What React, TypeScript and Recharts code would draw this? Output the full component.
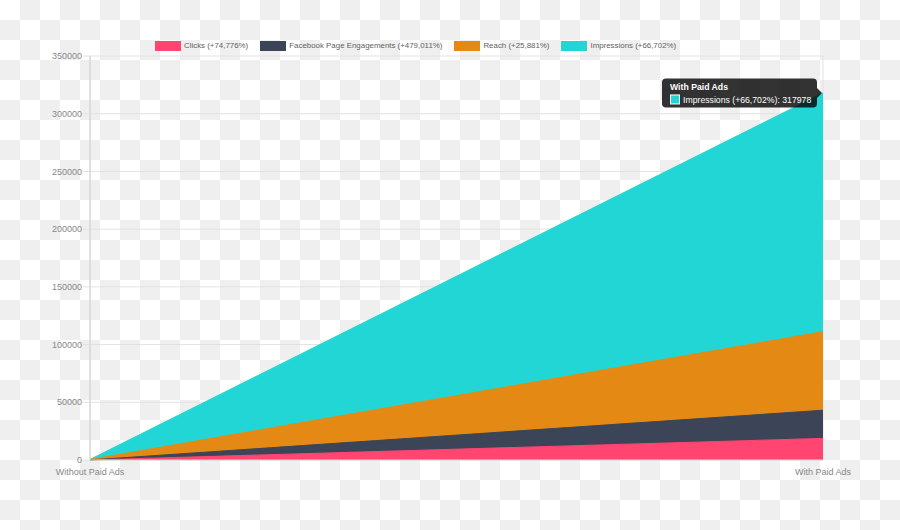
import { Area, AreaChart, CartesianGrid, Legend, XAxis, YAxis } from 'recharts';

const categories = ['Without Paid Ads', 'With Paid Ads'];

const clicks = [25, 18719];
const engagements = [9, 43120];
const reach = [428, 111199];
const impressions = [476, 317978];

const yTicks = [0, 50000, 100000, 150000, 200000, 250000, 300000, 350000];

const series = [
    { key: 'clicks', name: 'Clicks (+74,776%)', color: '#ff4570', values: clicks },
    { key: 'engagements', name: 'Facebook Page Engagements (+479,011%)', color: '#3b4557', values: engagements },
    { key: 'reach', name: 'Reach (+25,881%)', color: '#e48a14', values: reach },
    { key: 'impressions', name: 'Impressions (+66,702%)', color: '#22d6d6', values: impressions },
];

const tooltipTitle = categories[1];

const data = categories.map((name, i) => {
    const row: Record<string, string | number> = { name };
    series.forEach((s) => {
        row[s.key] = s.values[i];
    });
    return row;
});

const FONT = '"Liberation Sans", Arial, sans-serif';

const LegendContent = () => (
    <div style={{ display: 'flex', alignItems: 'center', fontFamily: FONT, fontSize: 7.9, color: '#5f5f5f' }}>
        {series.map((s) => (
            <div key={s.key} style={{ display: 'flex', alignItems: 'center', marginRight: 12 }}>
                <span style={{ width: 26, height: 9.5, background: s.color, marginRight: 3, display: 'inline-block' }} />
                <span style={{ whiteSpace: 'nowrap' }}>{s.name}</span>
            </div>
        ))}
    </div>
);

// static tooltip drawn next to the last impressions point
const renderTooltip = (props: any) => {
    const { x, y, value, index } = props;
    if (index !== 1) return null;
    const s = series[3];
    const w = 155;
    const h = 29;
    const right = x - 6;
    const left = right - w;
    const top = y - h / 2;
    return (
        <g>
            <rect x={left} y={top} width={w} height={h} rx={4} fill="rgba(0,0,0,0.8)" />
            <path d={`M${right},${y - 5} L${right + 5},${y} L${right},${y + 5} Z`} fill="rgba(0,0,0,0.8)" />
            <text x={left + 8} y={top + 11.5} fill="#fff" fontFamily={FONT} fontSize={8.7} fontWeight="bold">
                {tooltipTitle}
            </text>
            <rect x={left + 8.5} y={top + 16.5} width={9} height={9} fill={s.color} stroke="#fff" strokeWidth={1} />
            <text x={left + 21} y={top + 24.5} fill="#fff" fontFamily={FONT} fontSize={8.7}>
                {`${s.name}: ${value}`}
            </text>
        </g>
    );
};

const App = () => {
    const drawOrder = [...series].reverse();
    return (
        <div
            style={{
                position: 'absolute',
                top: 0,
                left: 0,
                width: 900,
                height: 530,
                background: 'repeating-conic-gradient(#efefef 0 25%, #ffffff 0 50%) 0 0 / 40px 40px',
            }}
        >
            <AreaChart width={900} height={530} data={data} margin={{ top: 56, right: 77, left: 0, bottom: 0 }}>
                <CartesianGrid stroke="#e2e2e2" />
                <XAxis
                    dataKey="name"
                    axisLine={{ stroke: '#d6d6d6' }}
                    tickLine={false}
                    tickSize={7}
                    tick={{ fill: '#888', fontSize: 9, fontFamily: FONT }}
                    height={70}
                />
                <YAxis
                    domain={[0, 350000]}
                    ticks={yTicks}
                    width={90}
                    axisLine={{ stroke: '#cfcfcf' }}
                    tickLine={{ stroke: '#e2e2e2' }}
                    tickSize={7}
                    tickMargin={1}
                    tick={{ fill: '#888', fontSize: 9, fontFamily: FONT }}
                    interval={0}
                />
                <Legend
                    verticalAlign="middle"
                    align="center"
                    layout="horizontal"
                    wrapperStyle={{ top: 41, left: 155, width: 600 }}
                    content={() => <LegendContent />}
                />
                {drawOrder.map((s) => (
                    <Area
                        key={s.key}
                        type="linear"
                        dataKey={s.key}
                        name={s.name}
                        stroke={s.color}
                        strokeWidth={1}
                        fill={s.color}
                        fillOpacity={1}
                        dot={false}
                        activeDot={false}
                        isAnimationActive={false}
                        label={s.key === 'impressions' ? renderTooltip : undefined}
                    />
                ))}
            </AreaChart>
        </div>
    );
};

export default App;
